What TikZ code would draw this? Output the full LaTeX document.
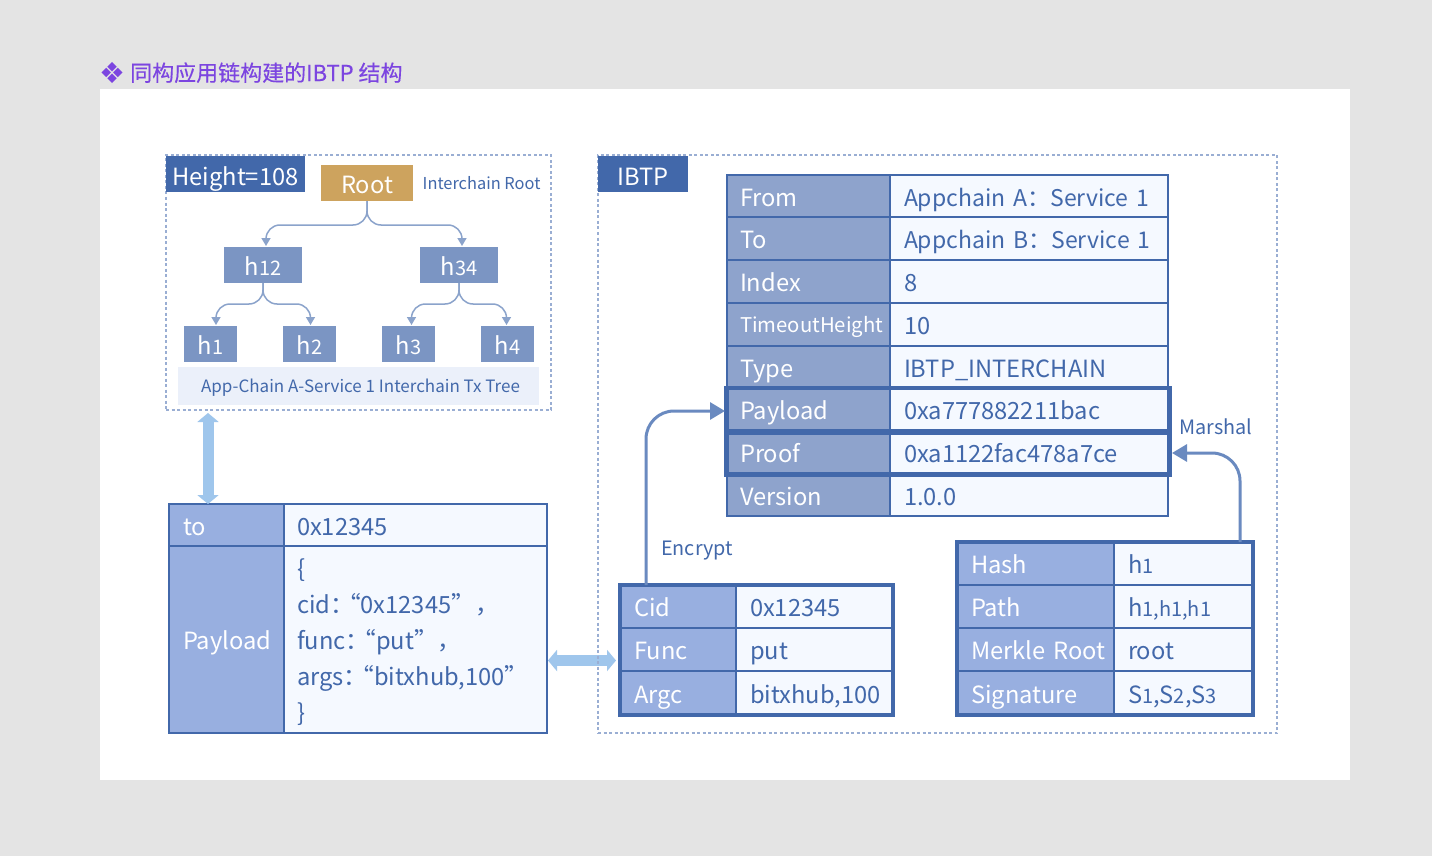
\documentclass[tikz,border=0pt]{standalone}
\usepackage{fontspec}
\setmainfont{Noto Sans CJK SC}
\newfontfamily\symfont{DejaVu Sans}
\newfontfamily\titlefont[FakeBold=0.25]{Noto Sans CJK SC}
\usetikzlibrary{arrows.meta,calc}
\hyphenpenalty=10000
\exhyphenpenalty=10000
\definecolor{bgc}{HTML}{E4E4E4}
\definecolor{hdr}{HTML}{4268AA}
\definecolor{labA}{HTML}{8EA3CC}
\definecolor{labB}{HTML}{98AFE0}
\definecolor{valc}{HTML}{F5F9FF}
\definecolor{treec}{HTML}{7B95C3}
\definecolor{rootc}{HTML}{CDA35E}
\definecolor{bandc}{HTML}{EBF0FA}
\definecolor{lightarrow}{HTML}{9FC6EC}
\definecolor{dashc}{HTML}{9AAED3}
\definecolor{titlec}{HTML}{7C45E0}
\definecolor{connc}{HTML}{8BA3CB}
\definecolor{linkc}{HTML}{6A8AC0}
\newcommand{\sd}[1]{{\fontsize{20}{24}\selectfont #1}}
\newcommand{\myctxtstrut}{\rule[-7.8pt]{0pt}{36pt}}
\newcommand{\ctxt}[1]{\mbox{\myctxtstrut #1}}
\newcommand{\tctxt}[1]{\hspace*{-1pt}\mbox{\myctxtstrut #1}}
\newcommand{\cell}[7]{%
  \pgfmathsetmacro{\cw}{#5-#3}\pgfmathsetmacro{\ch}{#6-#4}%
  \pgfmathsetmacro{\tw}{\cw-28}%
  \node[#2,anchor=north west,minimum height=\ch pt,text width=\tw pt] (#1) at (#3,#4) {#7};}
\tikzset{
  base/.style={inner ysep=0pt,inner xsep=14pt,outer sep=0pt,draw=hdr,line width=2pt,align=left,font=\fontsize{23.7}{36}\selectfont},
  labelA/.style={base,fill=labA,text=white},
  labelB/.style={base,fill=labB,text=white},
  valuecell/.style={base,fill=valc,text=hdr},
  frame/.style={draw=dashc,outer sep=0pt,line width=1.3pt,dash pattern=on 3pt off 2.5pt},
  tag/.style={fill=hdr,text=white,inner sep=0pt,outer sep=0pt,text height=27.4pt,text depth=4.6pt,font=\fontsize{23.7}{28}\selectfont},
  tree/.style={fill=treec,text=white,inner sep=0pt,outer sep=0pt,text height=26pt,text depth=6pt,font=\fontsize{23.7}{28}\selectfont},
  note/.style={text=hdr,inner sep=0pt,text height=16pt,text depth=5pt,font=\fontsize{19.8}{24}\selectfont},
  conn/.style={draw=connc,line width=1.5pt,rounded corners=14pt,-{Triangle[length=8pt,width=9pt]}},
  link/.style={draw=linkc,line width=3pt,rounded corners=28pt,-{Triangle[length=15pt,width=17pt]}},
  bigarrow/.style={draw=lightarrow,line width=11pt,{Triangle[length=9pt,width=21pt]}-{Triangle[length=9pt,width=21pt]}},
  thick box/.style={draw=hdr,line width=4.5pt},
}
\begin{document}
\begin{tikzpicture}[x=1pt,y=-1pt]
\useasboundingbox (0,0) rectangle (1432,856);
\fill[bgc] (0,0) rectangle (1432,856);
\fill[white] (100,89) rectangle (1350,780);
% title
\node[anchor=west,inner sep=0pt,text=titlec,font=\fontsize{22}{26}\selectfont] (title) at (99.5,73) {\raisebox{-1.5pt}{\symfont\fontsize{29}{30}\selectfont ❖}\hspace{4.5pt}\raisebox{1pt}{\titlefont 同构应用链构建的IBTP 结构}};
% band and anchors
\fill[bandc] (178,367) rectangle (539,405);
\node[note,font=\fontsize{17}{22}\selectfont] (band) at (360.5,386.5) {App-Chain A-Service 1 Interchain Tx Tree};
\coordinate (leftframeS) at (208,413);
% nodes of the left panel
\node[tree,fill=rootc,anchor=north west,minimum width=92pt,minimum height=36pt] (root) at (321,165) {Root};
\node[note,anchor=west,font=\fontsize{16.4}{22}\selectfont] (iroot) at (422.5,183.5) {Interchain Root};
\node[tree,anchor=north west,minimum width=78pt,minimum height=36pt] (h12) at (224,247) {h\sd{12}};
\node[tree,anchor=north west,minimum width=78pt,minimum height=36pt] (h34) at (420,247) {h\sd{34}};
\node[tree,anchor=north west,minimum width=53pt,minimum height=36pt] (h1) at (184,326) {h\sd{1}};
\node[tree,anchor=north west,minimum width=53pt,minimum height=36pt] (h2) at (283,326) {h\sd{2}};
\node[tree,anchor=north west,minimum width=53pt,minimum height=36pt] (h3) at (382,326) {h\sd{3}};
\node[tree,anchor=north west,minimum width=53pt,minimum height=36pt] (h4) at (481,326) {h\sd{4}};
% tree connectors
\draw[conn] (root.south) -- ++(0,24) -| ($(h12.north)+(3,-1)$);
\draw[conn] (root.south) -- ++(0,24) -| ($(h34.north)+(3,-1)$);
\draw[conn] (h12.south) -- ++(0,21) -| ($(h1.north)+(5.5,-1)$);
\draw[conn] (h12.south) -- ++(0,21) -| ($(h2.north)+(1,-1)$);
\draw[conn] (h34.south) -- ++(0,21) -| ($(h3.north)+(3,-1)$);
\draw[conn] (h34.south) -- ++(0,21) -| ($(h4.north)+(-1,-1)$);
% lower-left table
\cell{toL}{labelB}{169}{504}{284}{546}{\ctxt{to}}
\cell{toV}{valuecell}{284}{504}{547}{546}{\tctxt{0x12345}}
\cell{payloadL}{labelB}{169}{546}{284}{733}{\ctxt{Payload}}
\cell{payloadV}{valuecell}{284}{546}{547}{733}{\tctxt{\{}\\\tctxt{cid：\hspace{-17pt}“0x12345”，}\\\tctxt{func：\hspace{-17pt}“put”，}\\\tctxt{args：\hspace{-17pt}“bitxhub,100”}\\\tctxt{\}}}
% IBTP table
\cell{fromL}{labelA}{727}{175}{890}{217}{\tctxt{From}}
\cell{fromV}{valuecell}{890}{175}{1168}{217}{\ctxt{\fontsize{23}{36}\selectfont Appchain A：Service 1}}
\cell{tL}{labelA}{727}{217}{890}{260}{\tctxt{To}}
\cell{tV}{valuecell}{890}{217}{1168}{260}{\ctxt{\fontsize{23}{36}\selectfont Appchain B：Service 1}}
\cell{indexL}{labelA}{727}{260}{890}{303}{\tctxt{Index}}
\cell{indexV}{valuecell}{890}{260}{1168}{303}{\ctxt{8}}
\cell{timeL}{labelA}{727}{303}{890}{346}{\tctxt{\raisebox{2pt}{\fontsize{20.3}{26}\selectfont TimeoutHeight}}}
\cell{timeV}{valuecell}{890}{303}{1168}{346}{\ctxt{10}}
\cell{typeL}{labelA}{727}{346}{890}{388}{\tctxt{Type}}
\cell{typeV}{valuecell}{890}{346}{1168}{388}{\ctxt{IBTP\_INTERCHAIN}}
\cell{pL}{labelA}{727}{388}{890}{431}{\tctxt{Payload}}
\cell{pV}{valuecell}{890}{388}{1168}{431}{\ctxt{0xa777882211bac}}
\cell{proofL}{labelA}{727}{431}{890}{474}{\tctxt{Proof}}
\cell{proofV}{valuecell}{890}{431}{1168}{474}{\ctxt{0xa1122fac478a7ce}}
\cell{verL}{labelA}{727}{474}{890}{516}{\tctxt{Version}}
\cell{verV}{valuecell}{890}{474}{1168}{516}{\ctxt{1.0.0}}
\draw[thick box] ($(pL.north west)+(-0.5,0)$) rectangle ($(pV.south east)+(1.5,0)$);
\draw[thick box] ($(proofL.north west)+(-0.5,2)$) rectangle ($(proofV.south east)+(1.5,0.5)$);
% Cid table
\cell{cidL}{labelB}{620}{585}{736}{628}{\ctxt{Cid}}
\cell{cidV}{valuecell}{736}{585}{893}{628}{\ctxt{0x12345}}
\cell{funcL}{labelB}{620}{628}{736}{671}{\ctxt{Func}}
\cell{funcV}{valuecell}{736}{628}{893}{671}{\ctxt{put}}
\cell{argL}{labelB}{620}{671}{736}{715}{\ctxt{Argc}}
\cell{argV}{valuecell}{736}{671}{893}{715}{\ctxt{bitxhub,100}}
\draw[thick box] (cidL.north west) rectangle (argV.south east);
% Hash table
\cell{hashL}{labelB}{957}{542}{1114}{585}{\ctxt{Hash}}
\cell{hashV}{valuecell}{1114}{542}{1253}{585}{\ctxt{h\sd{1}}}
\cell{pathL}{labelB}{957}{585}{1114}{628}{\ctxt{Path}}
\cell{pathV}{valuecell}{1114}{585}{1253}{628}{\ctxt{h\sd{1,h1,h1}}}
\cell{merkL}{labelB}{957}{628}{1114}{671}{\ctxt{Merkle Root}}
\cell{merkV}{valuecell}{1114}{628}{1253}{671}{\ctxt{root}}
\cell{sigL}{labelB}{957}{671}{1114}{715}{\ctxt{Signature}}
\cell{sigV}{valuecell}{1114}{671}{1253}{715}{\ctxt{S\sd{1},S\sd{2},S\sd{3}}}
\draw[thick box] (hashL.north west) rectangle (sigV.south east);
% labels
\node[note,anchor=west] (marshal) at (1179.5,428.5) {Marshal};
\node[note,anchor=west] (encrypt) at (661,549.5) {Encrypt};
% connectors
\draw[link] ($(cidL.north west)+(26,0)$) |- ($(pL.west)+(-2,1.5)$);
\draw[link] ($(hashV.north east)+(-13,0)$) |- ($(proofV.east)+(4,0.5)$);
\draw[bigarrow] (leftframeS) -- (toL.north -| leftframeS);
\draw[bigarrow] ($(payloadV.east |- 0,660.5)+(1,0)$) -- ($(cidL.west |- 0,660.5)+(-4,0)$);
% frames
\node[frame,anchor=north west,minimum width=385pt,minimum height=255pt] (leftframe) at (166,155) {};
\node[frame,anchor=north west,minimum width=679pt,minimum height=578pt] (rightframe) at (598,155) {};
\node[tag,anchor=north west,minimum width=139pt,minimum height=36pt] (height) at (166,156) {Height=108};
\node[tag,anchor=north west,minimum width=90pt,minimum height=36pt] (ibtp) at (598,156) {IBTP};
\end{tikzpicture}
\end{document}
